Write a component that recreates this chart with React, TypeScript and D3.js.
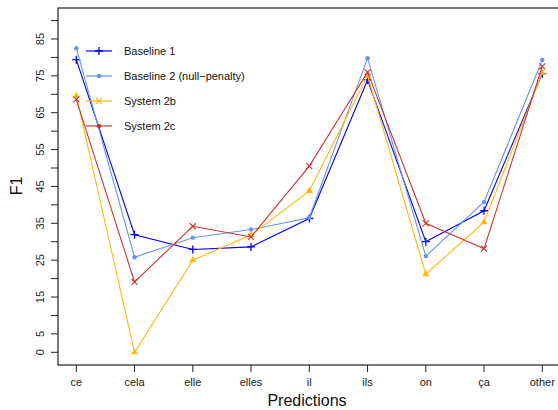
import { useEffect, useRef } from "react";
import * as d3 from "d3";

const categories = ["ce", "cela", "elle", "elles", "il", "ils", "on", "ça", "other"];
const baseline1 = [79.4, 31.9, 27.9, 28.6, 36.3, 73.9, 30.0, 38.4, 75.6];
const baseline2 = [82.5, 25.8, 31.1, 33.3, 36.5, 79.8, 26.1, 40.8, 79.3];
const system2b = [69.6, 0.0, 25.0, 31.8, 43.8, 75.0, 21.2, 35.3, 75.9];
const system2c = [68.6, 19.1, 34.2, 31.3, 50.5, 76.0, 35.0, 28.1, 77.6];
const yTicks = d3.range(0, 95, 5);
const yLabels = [0, 5, 15, 25, 35, 45, 55, 65, 75, 85];

const series = [
  { name: "Baseline 1", values: baseline1, color: "#0000ff", mark: "plus", legendMark: "plus" },
  { name: "Baseline 2 (null\u2212penalty)", values: baseline2, color: "#6495ed", mark: "dot", legendMark: "dot" },
  { name: "System 2b", values: system2b, color: "#ffb90f", mark: "tri", legendMark: "cross" },
  { name: "System 2c", values: system2c, color: "#cd3333", mark: "cross", legendMark: "dot" },
];

function drawMark(g: any, kind: string, x: number, y: number, color: string) {
  if (kind === "plus") {
    g.append("path").attr("d", `M${x - 4},${y}H${x + 4}M${x},${y - 4}V${y + 4}`)
      .attr("stroke", color).attr("stroke-width", 1.3);
  } else if (kind === "cross") {
    g.append("path").attr("d", `M${x - 3},${y - 3}L${x + 3},${y + 3}M${x - 3},${y + 3}L${x + 3},${y - 3}`)
      .attr("stroke", color).attr("stroke-width", 1.1);
  } else if (kind === "dot") {
    g.append("circle").attr("cx", x).attr("cy", y).attr("r", 2.2).attr("fill", color);
  } else {
    g.append("path").attr("d", d3.symbol(d3.symbolTriangle, 22)()).attr("transform", `translate(${x},${y})`)
      .attr("fill", color);
  }
}

export default function App() {
  const ref = useRef<SVGSVGElement>(null);

  useEffect(() => {
    const svg = d3.select(ref.current);
    svg.selectAll("*").remove();
    const font = "'Liberation Sans', Arial, sans-serif";

    const x = d3.scalePoint().domain(categories).range([76.3, 542.3]);
    const y = d3.scaleLinear().domain([0, 85]).range([352.3, 39]);
    const left = 58, right = 562, top = 8, bottom = 365;

    svg.append("rect").attr("x", left).attr("y", top).attr("width", right - left).attr("height", bottom - top)
      .attr("fill", "none").attr("stroke", "#222").attr("stroke-width", 1.2);

    // y axis
    const ya = svg.append("g");
    yTicks.forEach((t) => {
      ya.append("line").attr("x1", left - 7).attr("x2", left).attr("y1", y(t)).attr("y2", y(t))
        .attr("stroke", "#222");
    });
    yLabels.forEach((t) => {
      ya.append("text").attr("transform", `translate(44,${y(t)}) rotate(-90)`)
        .attr("text-anchor", "middle").attr("font-size", 11).attr("font-family", font).attr("fill", "#222")
        .text(t);
    });

    // x axis
    const xa = svg.append("g");
    categories.forEach((c) => {
      xa.append("line").attr("x1", x(c)!).attr("x2", x(c)!).attr("y1", bottom).attr("y2", bottom + 7)
        .attr("stroke", "#222");
      xa.append("text").attr("x", x(c)!).attr("y", 386).attr("text-anchor", "middle")
        .attr("font-size", 11).attr("font-family", font).attr("fill", "#222").text(c);
    });

    svg.append("text").attr("x", 307).attr("y", 406).attr("text-anchor", "middle")
      .attr("font-size", 16).attr("font-family", font).attr("fill", "#111").text("Predictions");
    svg.append("text").attr("transform", "translate(22,186) rotate(-90)").attr("text-anchor", "middle")
      .attr("font-size", 16).attr("font-family", font).attr("fill", "#111").text("F1");

    const line = d3.line<number>().x((_, i) => x(categories[i])!).y((d) => y(d));
    series.forEach((s) => {
      const g = svg.append("g");
      g.append("path").attr("d", line(s.values)).attr("fill", "none").attr("stroke", s.color)
        .attr("stroke-width", 1.1);
      s.values.forEach((v, i) => drawMark(g, s.mark, x(categories[i])!, y(v), s.color));
    });

    // legend
    series.forEach((s, i) => {
      const ly = 51 + i * 25;
      const g = svg.append("g");
      g.append("line").attr("x1", 86).attr("x2", 112).attr("y1", ly).attr("y2", ly)
        .attr("stroke", s.color).attr("stroke-width", 1.2);
      drawMark(g, s.legendMark, 99, ly, s.color);
      g.append("text").attr("x", 124).attr("y", ly + 4).attr("font-size", 11).attr("font-family", font)
        .attr("fill", "#111").text(s.name);
    });
  }, []);

  return (
    <div style={{ position: "absolute", left: 0, top: 0 }}>
      <svg ref={ref} width={558} height={410} style={{ display: "block", background: "#fff" }} />
    </div>
  );
}
